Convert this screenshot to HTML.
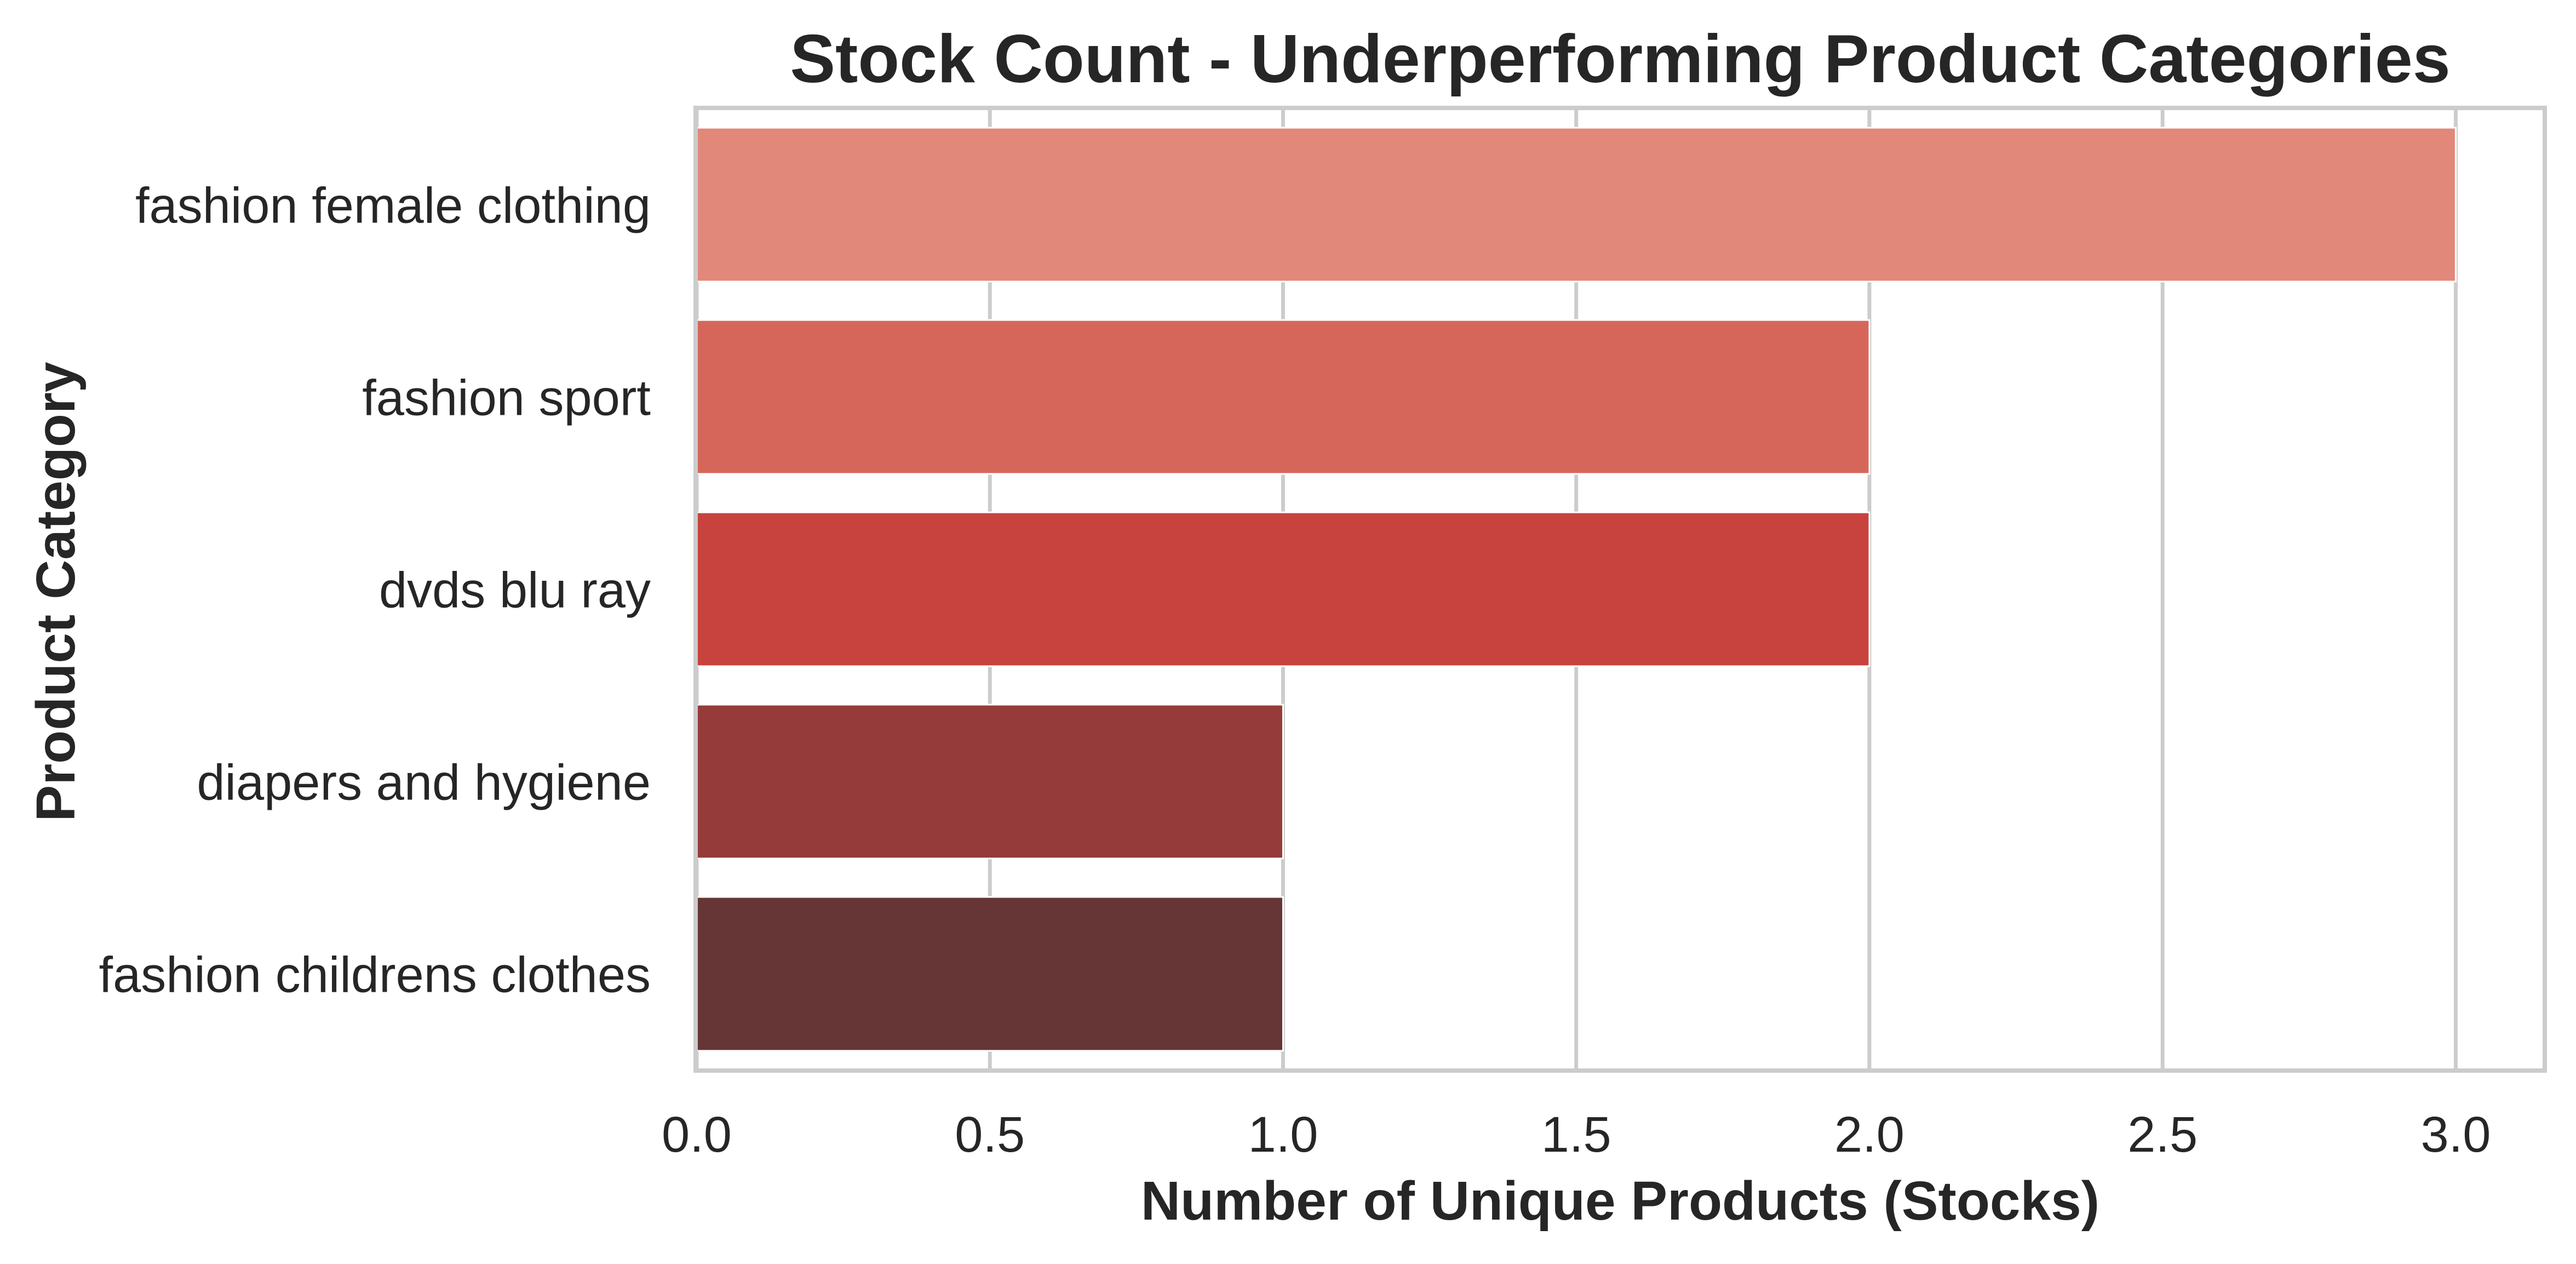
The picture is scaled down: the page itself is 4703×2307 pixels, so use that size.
<!DOCTYPE html>
<html><head><meta charset="utf-8"><style>
html,body{margin:0;padding:0;background:#fff;}
svg{display:block;font-family:"Liberation Sans",Arial,sans-serif;}
</style></head><body>
<svg id="chart" width="4703" height="2307" viewBox="0 0 4703 2307" xmlns="http://www.w3.org/2000/svg">
<rect width="4703" height="2307" fill="#fff"/>
<g id="grid"></g>
<g id="bars"></g>
<rect x="1270" y="197" width="3376" height="1757" fill="none" stroke="#cccccc" stroke-width="8"/>
<g id="xticks"></g>
<g id="yticks"></g>
<text x="2958" y="150" text-anchor="middle" font-size="124" font-weight="bold" fill="#262626">Stock Count - Underperforming Product Categories</text>
<text x="2958" y="2226" text-anchor="middle" font-size="100" font-weight="bold" fill="#262626">Number of Unique Products (Stocks)</text>
<text x="0" y="0" transform="translate(136,1080) rotate(-90)" text-anchor="middle" font-size="100" font-weight="bold" fill="#262626">Product Category</text>
</svg>
<script>
const categories = ["fashion female clothing","fashion sport","dvds blu ray","diapers and hygiene","fashion childrens clothes"];
const values = [3, 2, 2, 1, 1];
const colors = ["#e2887a","#d6665a","#c8433d","#953c3a","#663636"];
const xTicks = [0, 0.5, 1.0, 1.5, 2.0, 2.5, 3.0];
const xTickLabels = ["0.0","0.5","1.0","1.5","2.0","2.5","3.0"];

const NS = "http://www.w3.org/2000/svg";
const L = 1272, R = 4644, T = 198, B = 1953;
const xMax = 3.15;
const xs = v => L + (v / xMax) * (R - L);
const band = (B - T) / categories.length;
const yc = i => T + band * (i + 0.5);

const grid = document.getElementById('grid');
xTicks.forEach((t, i) => {
  const ln = document.createElementNS(NS, 'line');
  ln.setAttribute('x1', xs(t)); ln.setAttribute('x2', xs(t));
  ln.setAttribute('y1', T); ln.setAttribute('y2', B);
  ln.setAttribute('stroke', '#cccccc'); ln.setAttribute('stroke-width', '7');
  
  
  grid.appendChild(ln);
  const tx = document.createElementNS(NS, 'text');
  tx.setAttribute('x', xs(t)); tx.setAttribute('y', 2102);
  tx.setAttribute('text-anchor', 'middle'); tx.setAttribute('font-size', '92');
  tx.setAttribute('fill', '#262626');
  tx.textContent = xTickLabels[i];
  
  
  document.getElementById('xticks').appendChild(tx);
});

const bars = document.getElementById('bars');
categories.forEach((c, i) => {
  const h = band * 0.8;
  const r = document.createElementNS(NS, 'rect');
  r.setAttribute('x', xs(0)); r.setAttribute('y', yc(i) - h / 2);
  r.setAttribute('width', xs(values[i]) - xs(0)); r.setAttribute('height', h);
  r.setAttribute('fill', colors[i]);
  r.setAttribute('stroke', '#ffffff'); r.setAttribute('stroke-width', '3');
  
  
  bars.appendChild(r);
  const tx = document.createElementNS(NS, 'text');
  tx.setAttribute('x', 1188); tx.setAttribute('y', yc(i) + 33);
  tx.setAttribute('text-anchor', 'end'); tx.setAttribute('font-size', '92');
  tx.setAttribute('fill', '#262626');
  tx.textContent = c;
  
  
  document.getElementById('yticks').appendChild(tx);
});
</script>
</body></html>
